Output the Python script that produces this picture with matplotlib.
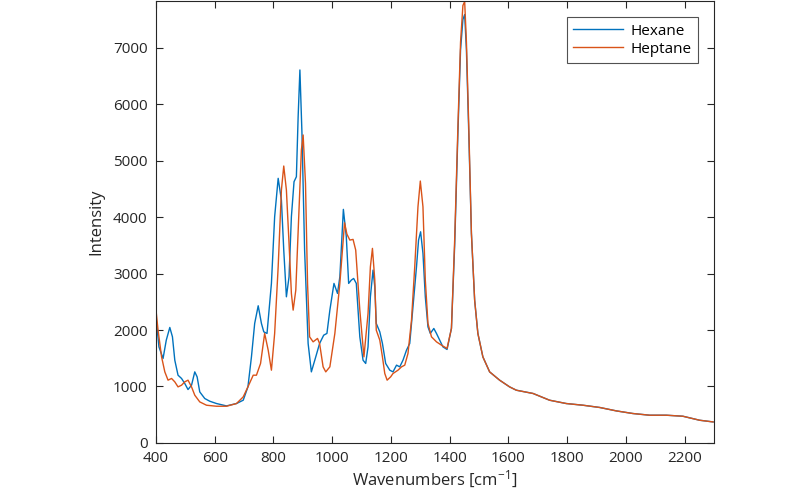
import matplotlib
matplotlib.use("Agg")
import matplotlib.pyplot as plt

plt.rcParams['font.family'] = ['Open Sans', 'DejaVu Sans']
plt.rcParams['mathtext.default'] = 'regular'

hex_x = [400, 410, 424, 435, 447, 456, 464, 475, 487, 498, 509, 521, 532, 540, 549, 566, 583, 606,
         640, 674, 697, 713, 725, 736, 748, 759, 767, 778, 793, 804, 816, 827, 835, 844, 853, 861,
         870, 878, 884, 890, 897, 906, 918, 929, 944, 957, 971, 982, 992, 1006, 1018, 1026, 1038,
         1048, 1056, 1065, 1073, 1082, 1094, 1105, 1114, 1122, 1130, 1139, 1145, 1150, 1162, 1171,
         1182, 1196, 1207, 1219, 1230, 1241, 1253, 1264, 1275, 1287, 1294, 1301, 1309, 1317, 1326,
         1334, 1346, 1355, 1366, 1377, 1391, 1406, 1417, 1428, 1437, 1445, 1451, 1457, 1465, 1474,
         1485, 1496, 1513, 1536, 1570, 1604, 1627, 1684, 1740, 1797, 1854, 1911, 1968, 2024, 2081,
         2138, 2194, 2251, 2297]
hex_y = [2234, 1702, 1496, 1821, 2046, 1880, 1466, 1200, 1142, 1053, 946, 1023, 1259, 1171, 904,
         787, 739, 698, 656, 698, 757, 993, 1525, 2117, 2430, 2117, 1968, 1940, 2826, 4007, 4688,
         4303, 3417, 2589, 2943, 4007, 4628, 4716, 5780, 6608, 5486, 3417, 1762, 1259, 1525, 1762,
         1909, 1940, 2353, 2826, 2649, 2943, 4138, 3652, 2826, 2885, 2914, 2826, 1880, 1466, 1408,
         1702, 2589, 3062, 2766, 2117, 1968, 1762, 1408, 1289, 1259, 1378, 1348, 1466, 1644, 1762,
         2411, 3121, 3594, 3741, 3358, 2589, 2057, 1940, 2028, 1940, 1821, 1702, 1656, 2030, 3500,
         5486, 6963, 7500, 7590, 6963, 5486, 3713, 2530, 1940, 1525, 1259, 1112, 993, 934, 876, 757,
         698, 668, 628, 567, 521, 491, 491, 473, 402, 372]

hep_x = [400, 407, 419, 430, 441, 453, 464, 475, 487, 498, 509, 521, 532, 549, 572, 606, 640, 674,
         697, 713, 731, 742, 756, 770, 782, 793, 804, 816, 827, 835, 844, 853, 861, 867, 876, 886,
         895, 901, 909, 916, 923, 935, 950, 957, 969, 978, 992, 1009, 1026, 1042, 1050, 1060, 1071,
         1080, 1094, 1108, 1122, 1130, 1137, 1145, 1150, 1162, 1171, 1179, 1187, 1199, 1207, 1224,
         1236, 1247, 1258, 1270, 1281, 1292, 1300, 1309, 1317, 1326, 1338, 1355, 1372, 1391, 1406,
         1417, 1428, 1437, 1445, 1451, 1457, 1465, 1474, 1485, 1496, 1513, 1536, 1570, 1604, 1627,
         1684, 1740, 1797, 1854, 1911, 1968, 2024, 2081, 2138, 2194, 2251, 2297]
hep_y = [2353, 1998, 1525, 1259, 1112, 1142, 1082, 993, 1023, 1082, 1112, 993, 846, 727, 668, 650,
         650, 698, 816, 993, 1200, 1200, 1408, 1940, 1644, 1289, 1940, 3121, 4480, 4906, 4480, 3535,
         2649, 2353, 2707, 4007, 5190, 5456, 4599, 2826, 1880, 1791, 1851, 1762, 1348, 1259, 1348,
         1940, 2826, 3900, 3700, 3594, 3606, 3417, 2353, 1525, 2294, 3121, 3447, 2885, 1998, 1821,
         1525, 1230, 1112, 1171, 1230, 1289, 1348, 1378, 1585, 2176, 3121, 4184, 4640, 4184, 2885,
         2117, 1880, 1791, 1732, 1674, 2030, 3600, 5600, 7100, 7750, 7820, 7100, 5604, 3713, 2530,
         1940, 1525, 1259, 1112, 993, 934, 876, 757, 698, 668, 628, 567, 521, 491, 491, 473, 402,
         372]

series_names = ["Hexane", "Heptane"]
x_ticks = [400, 600, 800, 1000, 1200, 1400, 1600, 1800, 2000, 2200]
y_ticks = [0, 1000, 2000, 3000, 4000, 5000, 6000, 7000]

axc = '#262626'
fig = plt.figure(figsize=(8, 4.96), dpi=100)
ax = fig.add_axes([0.195, 0.107, 0.6975, 0.891])
ax.plot(hex_x, hex_y, color='#0072BD', lw=1.0, label=series_names[0])
ax.plot(hep_x, hep_y, color='#D95319', lw=1.0, label=series_names[1])
ax.set_xlim(400, 2300)
ax.set_ylim(0, 7830)
ax.set_xticks(x_ticks)
ax.set_yticks(y_ticks)
ax.tick_params(direction='in', top=True, right=True, length=5, width=0.8,
               labelsize=11, colors=axc, pad=6)
for s in ax.spines.values():
    s.set_color(axc)
    s.set_linewidth(0.8)
ax.set_xlabel('Wavenumbers [cm$^{-1}$]', fontsize=12, color=axc, labelpad=2)
ax.set_ylabel('Intensity', fontsize=12, color=axc, labelpad=6)
leg = ax.legend(loc='upper right', bbox_to_anchor=(0.985, 0.98), fancybox=False,
                edgecolor=axc, fontsize=11, handlelength=3.3, borderpad=0.4,
                labelspacing=0.2, handletextpad=0.5)
leg.get_frame().set_linewidth(0.8)
fig.savefig('out.png', dpi=100)
